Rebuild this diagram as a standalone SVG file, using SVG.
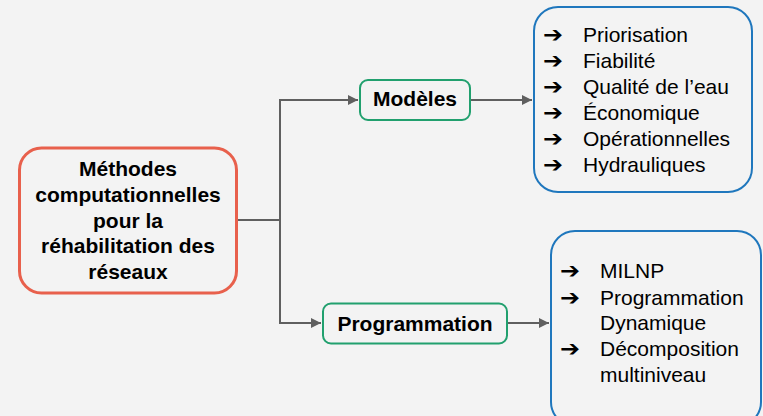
<svg xmlns="http://www.w3.org/2000/svg" width="763" height="416" viewBox="0 0 763 416">
<defs>
<style>
.bg{fill:#f3f3f3}
.main{fill:#f3f3f3;stroke:#e8604c;stroke-width:3}
.mid{fill:#f3f3f3;stroke:#21a06e;stroke-width:2}
.list{fill:#f3f3f3;stroke:#1f77bd;stroke-width:2}
.b{font-family:"Liberation Sans",Arial,sans-serif;font-weight:bold;font-size:21px;fill:#000;text-anchor:middle}
.t{font-family:"Liberation Sans",Arial,sans-serif;font-size:21px;fill:#000}
.ar{font-family:"DejaVu Sans",sans-serif;font-size:22px;fill:#000;font-weight:bold}
.c{fill:none;stroke:#5f5f5f;stroke-width:2}
</style>
<marker id="ah" markerWidth="10" markerHeight="10" refX="10" refY="5" orient="auto" markerUnits="userSpaceOnUse">
<path d="M0,0 L10,5 L0,10 Z" fill="#5f5f5f"/>
</marker>
</defs>
<rect class="bg" x="0" y="0" width="763" height="416"/>
<g id="connectors">
<path class="c" d="M238,220 H280"/>
<path class="c" d="M280,99 V324"/>
<path class="c" d="M280,100 H358" marker-end="url(#ah)"/>
<path class="c" d="M280,323 H321" marker-end="url(#ah)"/>
<path class="c" d="M471,100 H532" marker-end="url(#ah)"/>
<path class="c" d="M508,323 H549" marker-end="url(#ah)"/>
</g>
<g id="main">
<rect class="main" x="19.5" y="148" width="217" height="145" rx="22"/>
<text class="b" x="128" y="176">Méthodes</text>
<text class="b" x="128" y="202">computationnelles</text>
<text class="b" x="128" y="227.5">pour la</text>
<text class="b" x="128" y="253">réhabilitation des</text>
<text class="b" x="128" y="279">réseaux</text>
</g>
<g id="modeles">
<rect class="mid" x="360" y="80" width="110" height="40" rx="8"/>
<text class="b" x="415" y="106">Modèles</text>
</g>
<g id="programmation">
<rect class="mid" x="323" y="303.5" width="184" height="40" rx="8"/>
<text class="b" x="415" y="331">Programmation</text>
</g>
<g id="liste-modeles">
<rect class="list" x="534" y="7" width="218" height="185" rx="24"/>
<text class="ar" x="543" y="42" textLength="20" lengthAdjust="spacingAndGlyphs">➔</text>
<text class="ar" x="543" y="68" textLength="20" lengthAdjust="spacingAndGlyphs">➔</text>
<text class="ar" x="543" y="94" textLength="20" lengthAdjust="spacingAndGlyphs">➔</text>
<text class="ar" x="543" y="120" textLength="20" lengthAdjust="spacingAndGlyphs">➔</text>
<text class="ar" x="543" y="146" textLength="20" lengthAdjust="spacingAndGlyphs">➔</text>
<text class="ar" x="543" y="172" textLength="20" lengthAdjust="spacingAndGlyphs">➔</text>
<text class="t" x="583" y="42">Priorisation</text>
<text class="t" x="583" y="68">Fiabilité</text>
<text class="t" x="583" y="94">Qualité de l’eau</text>
<text class="t" x="583" y="120">Économique</text>
<text class="t" x="583" y="146">Opérationnelles</text>
<text class="t" x="583" y="172">Hydrauliques</text>
</g>
<g id="liste-programmation">
<rect class="list" x="551" y="231" width="210" height="195" rx="24"/>
<text class="ar" x="560" y="278" textLength="20" lengthAdjust="spacingAndGlyphs">➔</text>
<text class="ar" x="560" y="304.5" textLength="20" lengthAdjust="spacingAndGlyphs">➔</text>
<text class="ar" x="560" y="356" textLength="20" lengthAdjust="spacingAndGlyphs">➔</text>
<text class="t" x="600" y="278">MILNP</text>
<text class="t" x="600" y="304.5">Programmation</text>
<text class="t" x="600" y="330">Dynamique</text>
<text class="t" x="600" y="356">Décomposition</text>
<text class="t" x="600" y="381.5">multiniveau</text>
</g>
</svg>
